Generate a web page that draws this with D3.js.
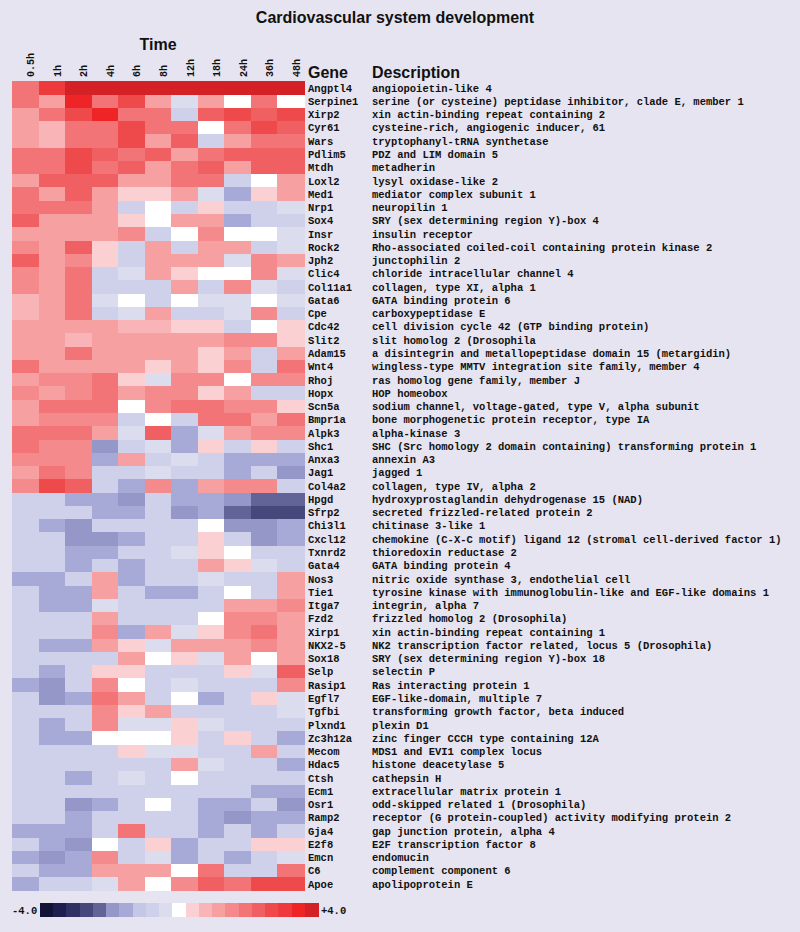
<!DOCTYPE html>
<html>
<head>
<meta charset="utf-8">
<script src="https://cdn.jsdelivr.net/npm/d3@7"></script>
<style>
  html, body { margin: 0; padding: 0; background: #e6e4f0; }
  svg { display: block; }
  .hdr { font-family: "Liberation Sans", Arial, sans-serif; font-weight: bold; fill: #111; }
  .mono { font-family: "Courier New", "Liberation Mono", monospace; font-weight: bold; fill: #111; }
</style>
</head>
<body>
<div id="chart"></div>
<script>
const times = ['0.5h', '1h', '2h', '4h', '6h', '8h', '12h', '18h', '24h', '36h', '48h'];

const genes = ['Angptl4', 'Serpine1', 'Xirp2', 'Cyr61', 'Wars', 'Pdlim5', 'Mtdh', 'Loxl2', 'Med1', 'Nrp1',
  'Sox4', 'Insr', 'Rock2', 'Jph2', 'Clic4', 'Col11a1', 'Gata6', 'Cpe', 'Cdc42', 'Slit2',
  'Adam15', 'Wnt4', 'Rhoj', 'Hopx', 'Scn5a', 'Bmpr1a', 'Alpk3', 'Shc1', 'Anxa3', 'Jag1',
  'Col4a2', 'Hpgd', 'Sfrp2', 'Chi3l1', 'Cxcl12', 'Txnrd2', 'Gata4', 'Nos3', 'Tie1', 'Itga7',
  'Fzd2', 'Xirp1', 'NKX2-5', 'Sox18', 'Selp', 'Rasip1', 'Egfl7', 'Tgfbi', 'Plxnd1', 'Zc3h12a',
  'Mecom', 'Hdac5', 'Ctsh', 'Ecm1', 'Osr1', 'Ramp2', 'Gja4', 'E2f8', 'Emcn', 'C6', 'Apoe'];

const descriptions = [
  'angiopoietin-like 4',
  'serine (or cysteine) peptidase inhibitor, clade E, member 1',
  'xin actin-binding repeat containing 2',
  'cysteine-rich, angiogenic inducer, 61',
  'tryptophanyl-tRNA synthetase',
  'PDZ and LIM domain 5',
  'metadherin',
  'lysyl oxidase-like 2',
  'mediator complex subunit 1',
  'neuropilin 1',
  'SRY (sex determining region Y)-box 4',
  'insulin receptor',
  'Rho-associated coiled-coil containing protein kinase 2',
  'junctophilin 2',
  'chloride intracellular channel 4',
  'collagen, type XI, alpha 1',
  'GATA binding protein 6',
  'carboxypeptidase E',
  'cell division cycle 42 (GTP binding protein)',
  'slit homolog 2 (Drosophila',
  'a disintegrin and metallopeptidase domain 15 (metargidin)',
  'wingless-type MMTV integration site family, member 4',
  'ras homolog gene family, member J',
  'HOP homeobox',
  'sodium channel, voltage-gated, type V, alpha subunit',
  'bone morphogenetic protein receptor, type IA',
  'alpha-kinase 3',
  'SHC (Src homology 2 domain containing) transforming protein 1',
  'annexin A3',
  'jagged 1',
  'collagen, type IV, alpha 2',
  'hydroxyprostaglandin dehydrogenase 15 (NAD)',
  'secreted frizzled-related protein 2',
  'chitinase 3-like 1',
  'chemokine (C-X-C motif) ligand 12 (stromal cell-derived factor 1)',
  'thioredoxin reductase 2',
  'GATA binding protein 4',
  'nitric oxide synthase 3, endothelial cell',
  'tyrosine kinase with immunoglobulin-like and EGF-like domains 1',
  'integrin, alpha 7',
  'frizzled homolog 2 (Drosophila)',
  'xin actin-binding repeat containing 1',
  'NK2 transcription factor related, locus 5 (Drosophila)',
  'SRY (sex determining region Y)-box 18',
  'selectin P',
  'Ras interacting protein 1',
  'EGF-like-domain, multiple 7',
  'transforming growth factor, beta induced',
  'plexin D1',
  'zinc finger CCCH type containing 12A',
  'MDS1 and EVI1 complex locus',
  'histone deacetylase 5',
  'cathepsin H',
  'extracellular matrix protein 1',
  'odd-skipped related 1 (Drosophila)',
  'receptor (G protein-coupled) activity modifying protein 2',
  'gap junction protein, alpha 4',
  'E2F transcription factor 8',
  'endomucin',
  'complement component 6',
  'apolipoprotein E'
];

// log-ratio per gene, one value per time point
const values = [
  [2.0, 3.2, 4.0, 4.0, 4.0, 4.0, 4.0, 4.0, 4.0, 4.0, 4.0],
  [2.0, 1.2, 3.6, 2.0, 2.8, 1.2, -0.4, 1.2, 0, 2.0, 0],
  [1.2, 2.0, 2.8, 3.6, 2.0, 2.0, -0.8, 2.4, 2.8, 2.4, 2.8],
  [1.2, 0.8, 2.0, 2.0, 2.8, 2.0, 2.0, 0, 2.0, 2.8, 2.4],
  [1.2, 0.8, 2.0, 2.0, 2.8, 1.2, 2.4, -0.8, 1.2, 2.0, 2.0],
  [2.0, 2.0, 2.8, 2.4, 2.0, 2.4, 1.2, 2.0, 2.4, 2.4, 2.4],
  [2.0, 2.0, 2.8, 2.0, 2.4, 1.2, 2.0, 2.4, 1.2, 2.4, 2.4],
  [1.2, 2.4, 2.4, 2.4, 1.2, 1.2, 2.0, 2.0, -0.8, 0, 1.2],
  [2.0, 1.2, 2.4, 1.2, 0.4, 0.4, 1.2, -0.4, -1.6, 0.4, 1.2],
  [2.0, 2.0, 2.0, 1.2, -0.8, 0, -0.8, 0.4, -0.8, -0.8, -0.4],
  [2.4, 1.2, 1.2, 1.2, 0.4, 0, 1.2, 1.2, -1.6, -0.8, -0.8],
  [1.2, 1.2, 1.2, 1.2, 1.6, -0.8, 0, 1.6, 0, 0, -0.4],
  [1.6, 1.2, 2.4, 0.4, -0.8, 1.2, -0.8, 1.2, 1.2, -0.8, -0.4],
  [2.4, 1.2, 1.6, 0.4, -0.8, 1.2, 1.2, 1.2, -0.4, 1.6, 1.2],
  [1.6, 1.2, 2.0, -0.8, -0.4, 1.2, 0.4, 0, 0, 1.6, -0.4],
  [1.6, 1.2, 2.0, -0.8, -0.8, -0.8, 1.2, -0.8, 1.6, -0.4, -0.8],
  [0.8, 1.2, 2.0, -0.4, 0, -0.8, 0, -0.4, -0.4, 0, -0.4],
  [0.8, 1.2, 2.0, -0.8, -0.4, 1.2, -0.8, -0.8, -0.4, 1.6, -0.8],
  [1.2, 1.2, 1.2, 1.2, 0.8, 0.8, 0.4, 0.4, -0.8, 0, 0.4],
  [1.2, 1.2, 0.8, 1.2, 1.2, 1.2, 1.2, 1.2, 1.6, 1.6, 0.4],
  [1.2, 1.2, 2.0, 1.2, 1.2, 1.2, 1.2, 0.4, 1.2, -0.8, 1.2],
  [2.0, 1.2, 1.2, 1.2, 1.2, 0.4, 1.2, 0.4, 1.6, -0.8, 2.0],
  [1.2, 1.6, 1.6, 2.0, 0.4, -0.4, 1.6, 1.6, 0, 1.6, 1.6],
  [1.6, 1.2, 1.6, 2.0, 1.2, 1.6, 1.6, 0.4, 1.2, -0.8, -0.8],
  [1.2, 2.0, 2.0, 2.0, 0, 1.6, 2.0, 2.0, 1.6, 1.6, 0.4],
  [1.2, 1.6, 1.6, 1.6, -0.8, 0, -0.8, 2.0, 2.0, 1.2, 2.0],
  [2.0, 2.0, 2.0, 1.2, -0.4, 2.4, -1.6, -0.4, 1.2, 1.6, 1.6],
  [2.0, 1.6, 1.6, -2.0, -0.8, -0.4, -1.6, 0.4, -0.8, 0.4, -0.8],
  [1.6, 1.6, 1.6, -1.6, 1.2, -0.8, -0.4, -0.8, -1.6, -1.6, -1.6],
  [1.2, 2.0, 1.6, -0.8, -0.8, -0.4, -0.8, -0.8, -1.6, -0.8, -2.0],
  [1.6, 2.8, 2.4, -0.8, -1.6, 1.6, -1.6, 1.2, 1.6, 1.6, -0.8],
  [-0.8, -0.8, -1.6, -1.6, -2.0, -0.8, -1.6, -1.6, -2.0, -2.4, -2.4],
  [-0.8, -0.8, -0.8, -1.6, -1.6, -0.8, -2.0, -1.6, -2.4, -2.8, -2.8],
  [-0.8, -1.6, -2.0, -0.8, -0.8, -0.8, -0.8, 0, -2.0, -2.0, -1.6],
  [-0.8, -0.8, -2.0, -2.0, -1.6, -0.8, -0.8, 0.4, -0.8, -2.0, -1.6],
  [-0.8, -0.8, -1.6, -1.6, -0.8, -0.8, -0.4, 0.4, 0, -0.8, -0.8],
  [-0.8, -0.8, -1.6, -0.8, -1.6, -0.8, -0.8, 1.2, 0.4, -0.4, -0.8],
  [-1.6, -1.6, -0.8, 1.2, -1.6, -0.8, -0.8, -0.4, -0.8, -0.8, 1.2],
  [-0.8, -1.6, -1.6, 1.2, -0.8, -1.6, -1.6, -0.8, 0, -0.8, 1.2],
  [-0.8, -1.6, -1.6, -0.4, -0.8, -0.8, -0.8, -0.8, 1.2, 1.2, 1.6],
  [-0.8, -0.8, -0.8, 1.2, -0.8, -0.8, -0.8, 0, 1.6, 1.6, 1.2],
  [-0.8, -0.8, -0.8, 1.6, -1.6, 1.2, -0.4, 0.4, 1.6, 2.0, 1.2],
  [-0.8, -1.6, -1.6, 1.2, 0.4, -0.4, 1.2, 1.2, 1.2, 1.6, 1.2],
  [-0.8, -0.8, -0.8, -0.8, 1.2, 0, 0.4, -0.4, 1.2, 0, 1.2],
  [-0.8, -1.6, -0.8, 0.4, 0.4, -0.8, -0.8, -0.8, 0.4, -0.4, 2.4],
  [-1.6, -2.0, -0.8, 1.6, 0, -0.8, -0.4, -0.8, -0.8, -0.8, 1.6],
  [-0.8, -2.0, -1.6, 2.0, 1.2, -0.8, 0, -1.6, -0.8, 0.4, -0.4],
  [-0.8, -0.8, -0.8, 1.6, 0.4, 1.2, -0.8, -0.8, -0.8, -0.8, -0.4],
  [-0.8, -1.6, -0.8, 1.6, -0.4, -0.4, 0.4, -0.4, -0.8, -0.8, -0.8],
  [-0.8, -1.6, -1.6, 0, 0, 0, 0.4, -0.8, 0.4, -0.8, -1.6],
  [-0.8, -0.8, -0.8, -0.8, 0.4, -0.4, -0.4, -0.8, -0.8, 1.2, -0.8],
  [-0.8, -0.8, -0.8, -0.8, -0.8, -0.8, 1.2, -0.4, -0.8, -0.8, -1.6],
  [-0.8, -0.8, -1.6, -0.8, -0.4, -0.8, 0, -0.8, -0.8, -0.8, -0.8],
  [-0.8, -0.8, -0.8, -0.8, -0.8, -0.8, -0.8, -0.8, -0.8, -1.6, -1.6],
  [-0.8, -0.8, -2.0, -1.6, -0.8, 0, -0.8, -1.6, -1.6, -0.8, -2.0],
  [-0.8, -0.8, -1.6, -0.8, -0.8, -0.8, -0.8, -1.6, -2.0, -1.6, -1.6],
  [-1.6, -1.6, -1.6, -0.8, 2.0, -0.8, -0.8, -1.6, -0.8, -1.6, -0.8],
  [-0.8, -1.6, -2.0, 0, -0.8, 0.4, -1.6, -0.8, -0.8, 0.4, 0.4],
  [-1.6, -2.0, -1.6, 1.6, -0.8, -0.4, -1.6, -0.8, -1.6, -0.8, -0.4],
  [-0.8, -1.6, -1.6, 1.2, 1.2, 1.2, 0, 2.0, -0.8, -0.8, 2.0],
  [-1.6, -0.8, -0.8, -0.4, 1.2, 0, 1.6, 2.4, 2.0, 2.8, 2.8]
];

// colour key: 21 steps from -4.0 to +4.0
const legendSteps = d3.range(21).map(i => +(-4 + i * 0.4).toFixed(1));
const legendColors = [
  '#131338', '#1e1f50', '#2f3164', '#46487b', '#626497', '#9597c8', '#a7a9d6', '#c6c7e6', '#cfd0ea', '#dcdcef',
  '#ffffff',
  '#fad0d2', '#f8b4b6', '#f6a0a2', '#f48a8c', '#f27476', '#f06062', '#ee4a4c', '#ee3a3c', '#ee2426', '#d42027'
];

const width = 800, height = 932;

const svg = d3.select('#chart').append('svg')
  .attr('width', width)
  .attr('height', height);

const color = d3.scaleQuantize()
  .domain([-4.2, 4.2])
  .range(legendColors);

const x = d3.scaleBand()
  .domain(times)
  .range([12, 304]);

const y = d3.scaleBand()
  .domain(genes)
  .range([81.3, 890.7]);

// title + headers
svg.append('text')
  .attr('class', 'hdr')
  .attr('x', 395).attr('y', 23)
  .attr('text-anchor', 'middle')
  .style('font-size', '16px')
  .text('Cardiovascular system development');

svg.append('text')
  .attr('class', 'hdr')
  .attr('x', 158).attr('y', 50)
  .attr('text-anchor', 'middle')
  .style('font-size', '16px')
  .text('Time');

svg.append('text')
  .attr('class', 'hdr')
  .attr('x', 308).attr('y', 78)
  .style('font-size', '16px')
  .text('Gene');

svg.append('text')
  .attr('class', 'hdr')
  .attr('x', 372).attr('y', 78)
  .style('font-size', '16px')
  .text('Description');

// time labels (rotated)
svg.append('g')
  .selectAll('text')
  .data(times)
  .enter()
  .append('text')
  .attr('class', 'mono')
  .style('font-size', '10px')
  .attr('transform', d => `translate(${x(d) + x.bandwidth() / 2 + 9}, 77) rotate(-90)`)
  .text(d => d);

// cells
const rows = svg.append('g').attr('class', 'cells')
  .selectAll('g')
  .data(genes)
  .enter()
  .append('g');

rows.selectAll('rect')
  .data((g, gi) => values[gi].map((v, ti) => ({ gene: g, time: times[ti], v })))
  .enter()
  .append('rect')
  .attr('x', d => x(d.time))
  .attr('y', d => y(d.gene))
  .attr('width', x.bandwidth() + 0.5)
  .attr('height', y.bandwidth() + 0.5)
  .attr('fill', d => color(d.v))
  .attr('shape-rendering', 'crispEdges');

// gene names + descriptions
const labels = svg.append('g')
  .selectAll('g')
  .data(genes)
  .enter()
  .append('g')
  .attr('transform', d => `translate(0, ${y(d) + y.bandwidth() / 2})`);

labels.append('text')
  .attr('class', 'mono')
  .attr('x', 308)
  .attr('dy', '0.35em')
  .style('font-size', '10.5px')
  .text(d => d);

labels.append('text')
  .attr('class', 'mono')
  .attr('x', 372)
  .attr('dy', '0.35em')
  .style('font-size', '10.5px')
  .text((d, i) => descriptions[i]);

// colour key
const lx = d3.scaleBand()
  .domain(legendSteps)
  .range([40, 318]);

svg.append('g')
  .selectAll('rect')
  .data(legendSteps)
  .enter()
  .append('rect')
  .attr('x', d => lx(d))
  .attr('y', 903.3)
  .attr('width', lx.bandwidth() + 0.5)
  .attr('height', 13.4)
  .attr('fill', d => color(d))
  .attr('shape-rendering', 'crispEdges');

svg.append('text')
  .attr('class', 'mono')
  .attr('x', 12).attr('y', 914)
  .style('font-size', '10.5px')
  .text('-4.0');

svg.append('text')
  .attr('class', 'mono')
  .attr('x', 321).attr('y', 914)
  .style('font-size', '10.5px')
  .text('+4.0');
</script>
</body>
</html>
